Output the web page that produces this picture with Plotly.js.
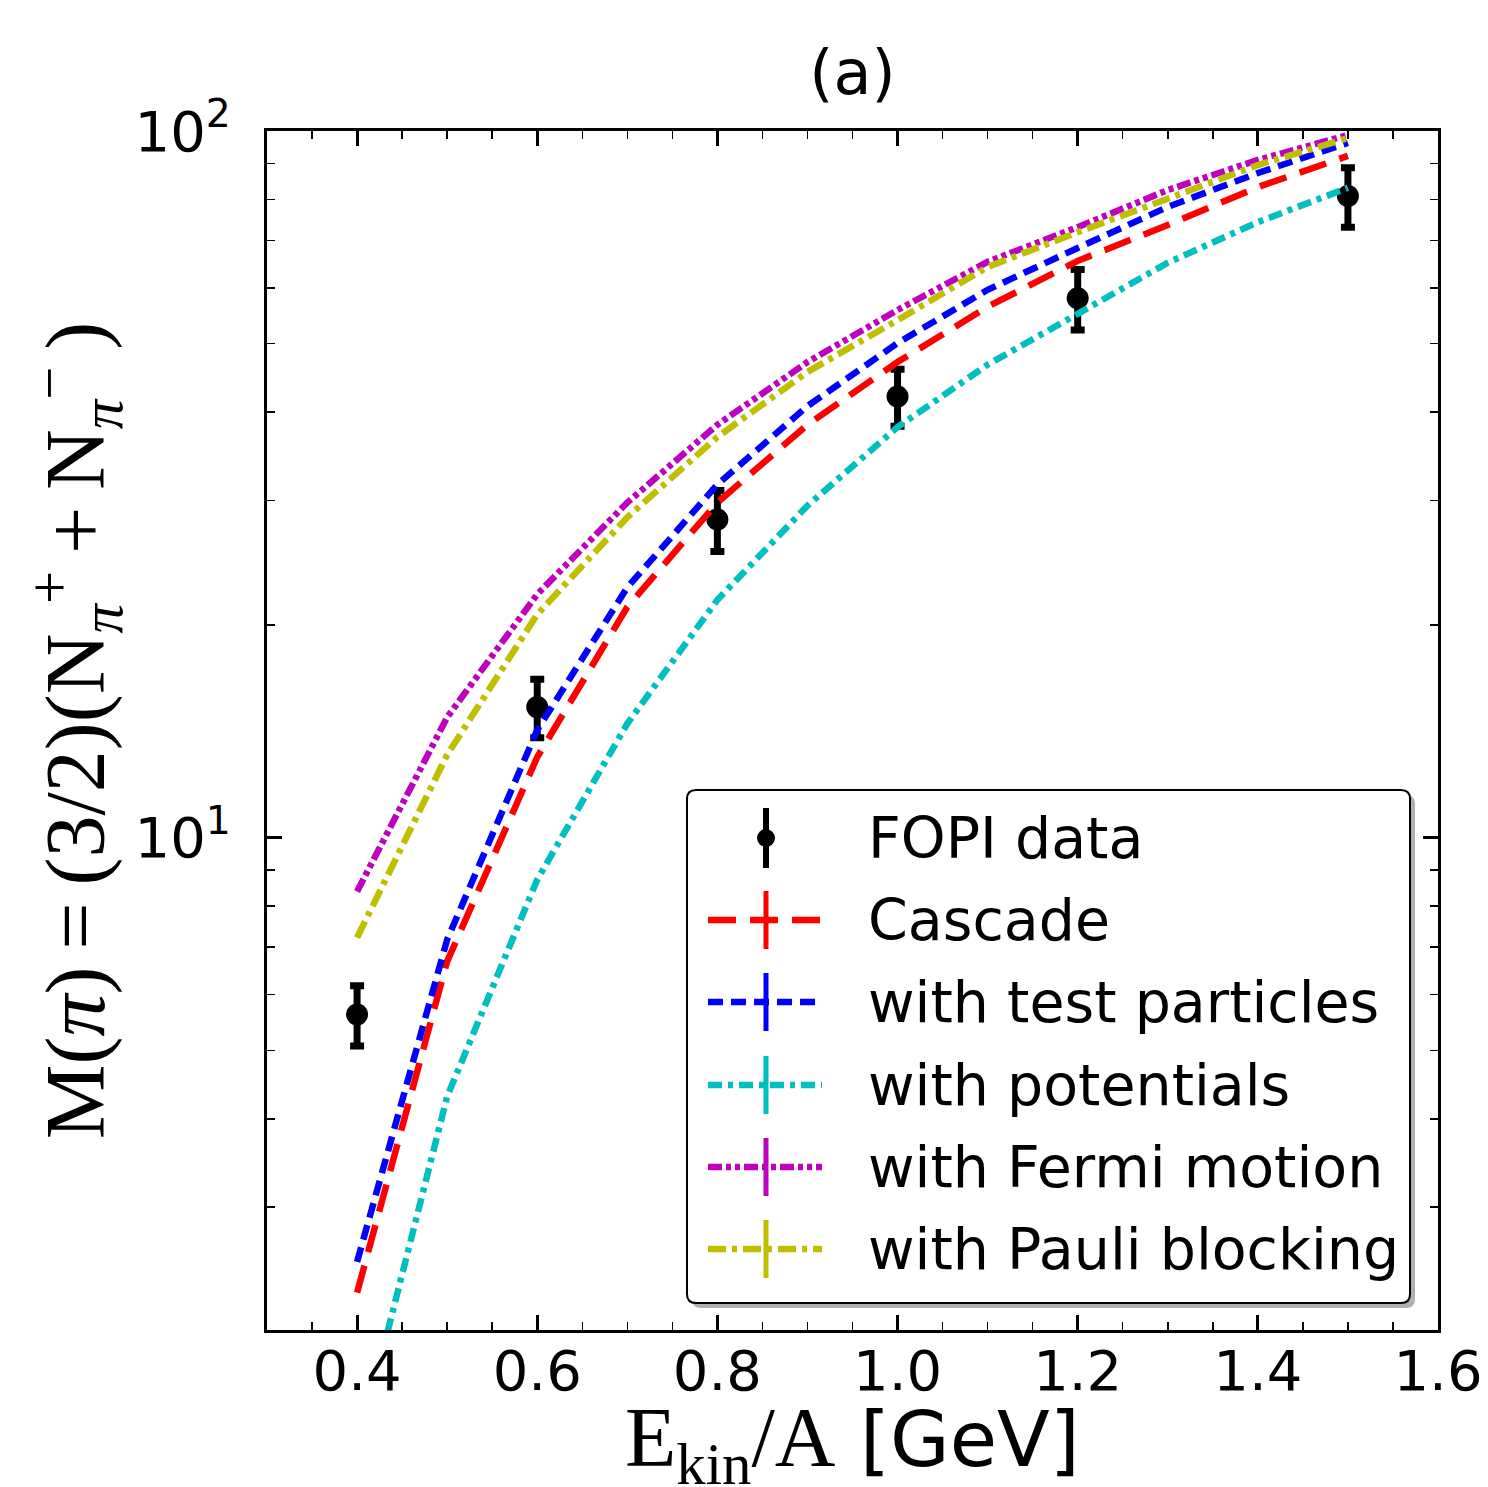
<!DOCTYPE html>
<html>
<head>
<meta charset="utf-8">
<script src="https://cdn.plot.ly/plotly-3.0.1.min.js"></script>
<style>html,body{margin:0;padding:0;background:#fff;}#chart{width:1488px;height:1487px;}</style>
</head>
<body>
<div id="chart"></div>
<script>
// ---- data ----
const energyModel = [0.4, 0.5, 0.6, 0.7, 0.8, 0.9, 1.0, 1.1, 1.2, 1.3, 1.4, 1.5];
const cascade     = [2.27, 6.68, 13.0, 21.2, 29.8, 38.4, 47.1, 56.4, 65.5, 73.6, 83.3, 92.2];
const testParticles = [2.51, 7.17, 14.2, 22.6, 31.6, 40.8, 50.1, 59.6, 68.3, 78.1, 87.2, 96.2];
const potentials  = [1.35, 4.30, 8.72, 14.5, 21.7, 29.5, 38.1, 46.7, 55.1, 65.1, 74.3, 83.1];
const fermiMotion = [8.39, 14.8, 22.1, 29.8, 38.4, 47.1, 55.8, 65.3, 73.1, 82.5, 91.0, 98.7];
const pauliBlocking = [7.22, 13.1, 20.7, 28.4, 36.9, 45.6, 54.0, 64.2, 71.9, 80.4, 89.5, 97.7];

const energyFOPI = [0.4, 0.6, 0.8, 1.0, 1.2, 1.5];
const fopiM      = [5.62, 15.3, 28.2, 42.1, 58.0, 80.9];
const fopiErr    = [0.55, 1.45, 2.8, 3.9, 5.7, 7.8];

const seriesNames = ["FOPI data", "Cascade", "with test particles", "with potentials", "with Fermi motion", "with Pauli blocking"];
const xTickVals = [0.4, 0.6, 0.8, 1.0, 1.2, 1.4, 1.6];
const xTickText = ["0.4", "0.6", "0.8", "1.0", "1.2", "1.4", "1.6"];
const yTickVals = [10, 100];
const yTickText = ["10<sup>1</sup>", "10<sup>2</sup>"];
const xTitle = '<span style="font-family:Liberation Serif;font-size:84px">E<sub>kin</sub>/A</span> [GeV]';
const yTitle = 'M(<i>π</i>)\u2009=\u2009(3/2)(N<sub><i>π</i></sub><sup>+</sup>\u2009+\u2009N<sub><i>π</i></sub><sup>−</sup>\u2009)';

// ---- styles ----
const colors = ["#000000", "#ff0000", "#0000ff", "#00bfbf", "#bf00bf", "#bfbf00"];
const dashes = [null, "28px,14px", "15px,8px", "14px,6px,5px,6px", "14px,4px,5px,4px,5px,4px", "18px,6px,5px,6px"];
const modelSeries = [cascade, testParticles, potentials, fermiMotion, pauliBlocking];
const LW = 6.5;

const W = 1488, H = 1487;
const L = 267, R = 1438, T = 131, B = 1330;
const px2x = p => (p - L) / (R - L);
const px2y = p => (B - p) / (B - T);

const traces = [];
traces.push({
  x: energyFOPI, y: fopiM, type: 'scatter', mode: 'markers', name: seriesNames[0],
  marker: {color: '#000', size: 22, symbol: 'circle'},
  error_y: {type: 'data', array: fopiErr, visible: true, color: '#000', thickness: 7, width: 7},
  showlegend: false
});
modelSeries.forEach((ys, i) => {
  traces.push({
    x: energyModel, y: ys, type: 'scatter', mode: 'lines', name: seriesNames[i + 1],
    line: {color: colors[i + 1], width: LW, dash: dashes[i + 1]},
    showlegend: false
  });
});

// ---- custom legend (shapes + annotations) ----
const shapes = [];
const annotations = [];
const bx0 = 687, bx1 = 1410, by0 = 790, by1 = 1303, rad = 9;
function roundRect(x0, y0, x1, y1, r) {
  const X = px2x, Y = px2y;
  return `M ${X(x0 + r)} ${Y(y0)} L ${X(x1 - r)} ${Y(y0)} Q ${X(x1)} ${Y(y0)} ${X(x1)} ${Y(y0 + r)} ` +
         `L ${X(x1)} ${Y(y1 - r)} Q ${X(x1)} ${Y(y1)} ${X(x1 - r)} ${Y(y1)} ` +
         `L ${X(x0 + r)} ${Y(y1)} Q ${X(x0)} ${Y(y1)} ${X(x0)} ${Y(y1 - r)} ` +
         `L ${X(x0)} ${Y(y0 + r)} Q ${X(x0)} ${Y(y0)} ${X(x0 + r)} ${Y(y0)} Z`;
}
shapes.push({type: 'path', xref: 'paper', yref: 'paper', layer: 'above',
  path: roundRect(bx0 + 5, by0 + 5, bx1 + 5, by1 + 5, rad), fillcolor: '#b0b0b0', line: {width: 0}});
shapes.push({type: 'path', xref: 'paper', yref: 'paper', layer: 'above',
  path: roundRect(bx0, by0, bx1, by1, rad), fillcolor: '#ffffff', line: {color: '#000', width: 2}});

const rowY = [838, 920, 1002, 1085, 1167, 1249];
const sx0 = 708, sx1 = 822, sxc = 766, tx = 866;
seriesNames.forEach((name, i) => {
  const yy = rowY[i];
  if (i === 0) {
    shapes.push({type: 'line', xref: 'paper', yref: 'paper', layer: 'above',
      x0: px2x(sxc), x1: px2x(sxc), y0: px2y(yy - 30), y1: px2y(yy + 30), line: {color: '#000', width: 6}});
    shapes.push({type: 'circle', xref: 'paper', yref: 'paper', layer: 'above',
      x0: px2x(sxc - 9), x1: px2x(sxc + 9), y0: px2y(yy - 9), y1: px2y(yy + 9), fillcolor: '#000', line: {width: 0}});
  } else {
    shapes.push({type: 'line', xref: 'paper', yref: 'paper', layer: 'above',
      x0: px2x(sx0), x1: px2x(sx1), y0: px2y(yy), y1: px2y(yy), line: {color: colors[i], width: LW, dash: dashes[i]}});
    shapes.push({type: 'line', xref: 'paper', yref: 'paper', layer: 'above',
      x0: px2x(sxc), x1: px2x(sxc), y0: px2y(yy - 29), y1: px2y(yy + 29), line: {color: colors[i], width: 5}});
  }
  annotations.push({xref: 'paper', yref: 'paper', x: px2x(tx), y: px2y(yy), xanchor: 'left', yanchor: 'middle',
    text: name, showarrow: false, font: {family: 'DejaVu Sans', size: 57, color: '#000'}});
});

// x-axis title (annotation so it can sit low in the margin like the reference)
annotations.push({xref: 'paper', yref: 'paper', x: 0.5, y: px2y(1444), xanchor: 'center', yanchor: 'middle',
  text: xTitle, showarrow: false, font: {family: 'DejaVu Sans', size: 77, color: '#000'}});

const yMinor = [];
[1, 10].forEach(d => { for (let k = 2; k <= 9; k++) yMinor.push(k * d); });

const layout = {
  width: W, height: H,
  margin: {l: L, r: W - R, t: T, b: H - B},
  paper_bgcolor: '#fff', plot_bgcolor: '#fff',
  showlegend: false,
  font: {family: 'DejaVu Sans', color: '#000'},
  title: {text: '(a)', font: {family: 'DejaVu Sans', size: 62, color: '#000'},
    x: 0.5, xanchor: 'center', xref: 'paper', y: 1 - 72 / H, yanchor: 'middle'},
  xaxis: {
    range: [0.3, 1.6], tickvals: xTickVals, ticktext: xTickText,
    ticks: 'inside', ticklen: 15, tickwidth: 3, tickcolor: '#000',
    showline: true, linewidth: 3, linecolor: '#000', mirror: 'ticks',
    showgrid: false, zeroline: false,
    tickfont: {family: 'DejaVu Sans', size: 56, color: '#000'},
    ticklabelstandoff: -10,
    minor: {ticks: 'inside', dtick: 0.05, tick0: 0.3, ticklen: 8, tickwidth: 1.5, tickcolor: '#000', showgrid: false}
  },
  yaxis: {
    type: 'log', range: [Math.log10(2.01), 2], tickvals: yTickVals, ticktext: yTickText,
    ticks: 'inside', ticklen: 15, tickwidth: 3, tickcolor: '#000',
    showline: true, linewidth: 3, linecolor: '#000', mirror: 'ticks',
    showgrid: false, zeroline: false,
    tickfont: {family: 'DejaVu Sans', size: 56, color: '#000'},
    ticklabelstandoff: 22,
    minor: {ticks: 'inside', tickvals: yMinor, ticklen: 8, tickwidth: 1.5, tickcolor: '#000', showgrid: false},
    title: {text: yTitle, font: {family: 'Liberation Serif', size: 84, color: '#000'}, standoff: 0}
  },
  shapes: shapes,
  annotations: annotations
};

Plotly.newPlot('chart', traces, layout, {staticPlot: true});
</script>
</body>
</html>
